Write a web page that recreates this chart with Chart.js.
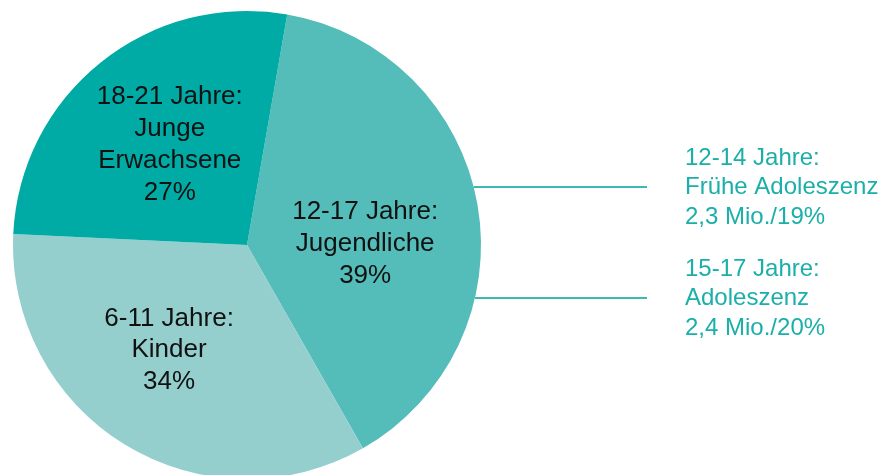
<!DOCTYPE html>
<html lang="de">
  <head>
    <meta charset="UTF-8" />
    <title>Altersgruppen</title>
    <script src="https://cdn.jsdelivr.net/npm/chart.js@4.4.1/dist/chart.umd.min.js"></script>
    <style>
      html, body {
        margin: 0;
        padding: 0;
        background: #ffffff;
        overflow: hidden;
      }
      .wrap {
        position: relative;
        width: 879px;
        height: 475px;
        overflow: hidden;
      }
      .wrap canvas {
        position: absolute;
        left: 0;
        top: 0;
      }
    </style>
  </head>
  <body>
    <div class="wrap">
      <canvas id="pie" width="879" height="479"></canvas>
    </div>
    <script>
      // Altersgruppen (Reihenfolge im Uhrzeigersinn ab oben)
      const categories = ["12-17 Jahre", "6-11 Jahre", "18-21 Jahre"];
      const shares = [39, 34, 27];
      const sliceLabels = [
        ["12-17 Jahre:", "Jugendliche", "39%"],
        ["6-11 Jahre:", "Kinder", "34%"],
        ["18-21 Jahre:", "Junge", "Erwachsene", "27%"],
      ];
      // Unterteilung der 12-17-Jährigen
      const subGroups = [
        ["12-14 Jahre:", "Frühe Adoleszenz", "2,3 Mio./19%"],
        ["15-17 Jahre:", "Adoleszenz", "2,4 Mio./20%"],
      ];

      const sliceColors = ["#54bcb9", "#94cfce", "#00aba6"];
      const FONT = "'Liberation Sans', Arial, sans-serif";

      // label centres as fractions of the radius, relative to the pie centre
      const labelOffsets = [
        [0.505, -0.005],
        [-0.333, 0.45],
        [-0.33, -0.428],
      ];
      // connector lines: vertical position as fraction of radius
      const connectorY = [-0.248, 0.226];

      const labelPlugin = {
        id: "pieLabels",
        afterDatasetsDraw(chart) {
          const c = chart.ctx;
          const arc = chart.getDatasetMeta(0).data[0];
          const cx = arc.x, cy = arc.y, r = arc.outerRadius;

          c.save();
          c.fillStyle = "#111111";
          c.font = "26px " + FONT;
          c.textAlign = "center";
          c.textBaseline = "middle";
          sliceLabels.forEach((lines, i) => {
            const x = cx + labelOffsets[i][0] * r;
            const y0 = cy + labelOffsets[i][1] * r - ((lines.length - 1) * 31.7) / 2;
            lines.forEach((t, j) => c.fillText(t, x, y0 + j * 31.7));
          });

          // connectors to the sub-group notes
          c.strokeStyle = "#3fb8b2";
          c.lineWidth = 2;
          connectorY.forEach((f) => {
            const dy = f * r;
            const y = Math.round(cy + dy);
            const x1 = cx + Math.sqrt(r * r - dy * dy);
            c.beginPath();
            c.moveTo(x1, y);
            c.lineTo(647, y);
            c.stroke();
          });

          c.fillStyle = "#1bafa9";
          c.font = "24px " + FONT;
          c.textAlign = "left";
          subGroups.forEach((lines, i) => {
            const y0 = cy + connectorY[i] * r - 28.5;
            lines.forEach((t, j) => c.fillText(t, 685, y0 + j * 29.3));
          });
          c.restore();
        },
      };

      new Chart(document.getElementById("pie"), {
        type: "pie",
        data: {
          labels: categories,
          datasets: [
            {
              data: shares,
              backgroundColor: sliceColors,
              borderWidth: 0,
            },
          ],
        },
        options: {
          responsive: false,
          animation: false,
          rotation: 9.9,
          layout: {
            padding: { left: 13, top: 11, right: 398, bottom: 0 },
          },
          plugins: {
            legend: { display: false },
            tooltip: { enabled: false },
          },
        },
        plugins: [labelPlugin],
      });
    </script>
  </body>
</html>
